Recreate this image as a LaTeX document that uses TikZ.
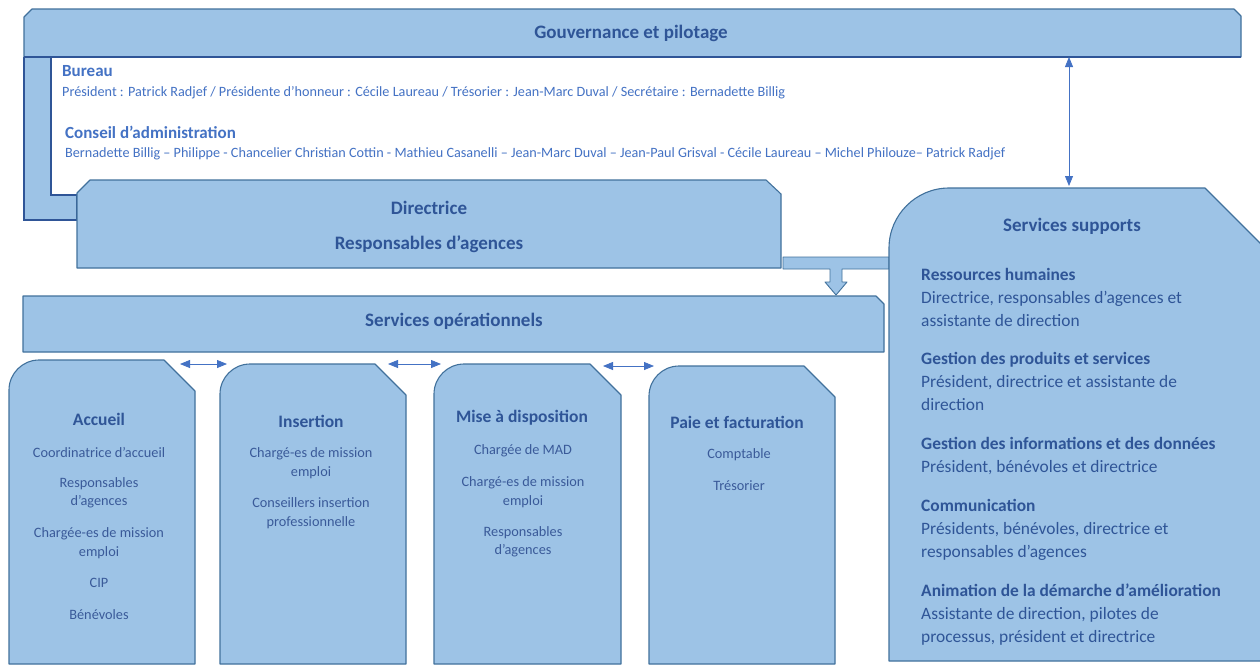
\documentclass[tikz,border=0pt]{standalone}
\usepackage{fontspec}
\setmainfont{Carlito}
\usetikzlibrary{arrows.meta}
\definecolor{boxfill}{HTML}{9DC3E6}
\definecolor{boxline}{HTML}{41719C}
\definecolor{bracketline}{HTML}{2F5597}
\definecolor{titletxt}{HTML}{2F5597}
\definecolor{bodytxt}{HTML}{3A5A99}
\definecolor{bureautxt}{HTML}{4472C4}
\definecolor{arrowcol}{HTML}{4472C4}
\tikzstyle{panel} = [fill=boxfill, draw=boxline, line width=1.1pt, line join=round]
\tikzstyle{ttl} = [font=\fontsize{19}{22}\selectfont\bfseries, text=titletxt, inner sep=0pt]
\tikzstyle{cardttl} = [font=\fontsize{17.5}{20}\selectfont\bfseries, text=titletxt, inner sep=0pt]
\tikzstyle{item} = [font=\fontsize{14.3}{18.5}\selectfont, text=bodytxt, align=center, inner sep=0pt]
\tikzstyle{bureauhead} = [anchor=west, font=\fontsize{17}{19}\selectfont\bfseries, text=bureautxt, inner sep=0pt]
\tikzstyle{bureaubody} = [anchor=west, font=\fontsize{14.2}{16}\selectfont, text=bureautxt, inner sep=0pt]
\tikzstyle{supp} = [anchor=north west, font=\fontsize{17.4}{23}\selectfont, text=titletxt, align=left, inner sep=0pt]
\tikzstyle{twoway} = [{Triangle[length=10pt,width=8pt]}-{Triangle[length=10pt,width=8pt]}, color=arrowcol, line width=0.8pt]

\begin{document}
\begin{tikzpicture}[x=1pt, y=-1pt]
		% un point = un pixel de l'image, axe y vers le bas
		\useasboundingbox (0,0) rectangle (1260,665);
		\clip (0,0) rectangle (1260,665);
		\fill[white] (0,0) rectangle (1260,665);
		
		% ---- 1. Gouvernance et pilotage ----
		% équerre de gauche
		\draw[fill=boxfill, draw=bracketline, line width=1.6pt]
		(24,57) -- (24,220) -- (77,220) -- (77,195) -- (51,195) -- (51,57);
		% bandeau du haut
		\draw[panel] (24,57) -- (24,17) -- (32,9) -- (1234,9) -- (1241,16) -- (1241,57) -- cycle;
		\draw[bracketline, line width=1.6pt] (24,57) -- (1241,57);
		\node[ttl] (gouv) at (631,33.5) {Gouvernance et pilotage};
		
		% bureau et conseil
		\node[bureauhead] (bureau) at (62,71) {Bureau};
		\node[bureaubody] (bureauTxt) at (62,92.5) {Président : Patrick Radjef / Présidente d’honneur : Cécile Laureau / Trésorier : Jean-Marc Duval / Secrétaire : Bernadette Billig};
		\node[bureauhead] (ca) at (65,132) {Conseil d’administration};
		\node[bureaubody] (caTxt) at (65,153.5) {Bernadette Billig – Philippe - Chancelier Christian Cottin - Mathieu Casanelli – Jean-Marc Duval – Jean-Paul Grisval - Cécile Laureau – Michel Philouze– Patrick Radjef};
		
		% ---- 2. Directrice ----
		\draw[panel] (77,268) -- (77,193) -- (90,180) -- (766,180) -- (781,194) -- (781,268) -- cycle;
		\node[ttl] (dir) at (429,207.5) {Directrice};
		\node[ttl] (resp) at (429,244.5) {Responsables d’agences};
		
		% flèche en T vers les services opérationnels
		\draw[panel, line width=0.9pt] (783,257) -- (889,257) -- (889,269) -- (842,269) -- (842,282) -- (847,282)
		-- (836,295) -- (825,282) -- (830,282) -- (830,269) -- (783,269) -- cycle;
		
		% ---- 3. Services opérationnels ----
		\draw[panel] (23,352) -- (23,296) -- (876,296) -- (884,304) -- (884,352) -- cycle;
		\node[ttl] (servop) at (454,321.5) {Services opérationnels};
		
		% cartes : gauche / droite / haut
		\foreach \l/\r/\t in {9/195/360, 220/406/364, 434/621/364, 649/835/366}
		\draw[panel] (\l,664) -- ({\l},{\t+30}) .. controls ({\l},{\t+13.5}) and ({\l+13.5},{\t}) .. ({\l+30},{\t})
		-- ({\r-31},{\t}) -- ({\r},{\t+31}) -- (\r,664) -- cycle;
		
		% Accueil
		\node[cardttl] (accueil) at (99,419) {Accueil};
		\node[item] (coord) at (99,452) {Coordinatrice d’accueil};
		\node[item] (respA) at (99,493) {Responsables\\d’agences};
		\node[item] (chargA) at (99,543) {Chargée-es de mission\\emploi};
		\node[item] (cip) at (99,583) {CIP};
		\node[item] (benev) at (99,615) {Bénévoles};
		
		% Insertion
		\node[cardttl] (insertion) at (311,421) {Insertion};
		\node[item] (chargI) at (311,463) {Chargé-es de mission\\emploi};
		\node[item] (conseil) at (311,513) {Conseillers insertion\\professionnelle};
		
		% Mise à disposition
		\node[cardttl] (mad) at (522,418) {Mise à disposition};
		\node[item] (chargMAD) at (523,451) {Chargée de MAD};
		\node[item] (chargM) at (523,492) {Chargé-es de mission\\emploi};
		\node[item] (respM) at (523,542) {Responsables\\d’agences};
		
		% Paie et facturation
		\node[cardttl] (paie) at (737,422) {Paie et facturation};
		\node[item] (compta) at (739,455) {Comptable};
		\node[item] (tresor) at (739,486) {Trésorier};
		
		% liens entre cartes
		\coordinate (acc-e) at (180,364);
		\coordinate (ins-w) at (227,364);
		\coordinate (ins-e) at (388,364);
		\coordinate (mad-w) at (441,364);
		\coordinate (mad-e) at (603,366);
		\coordinate (paie-w) at (654,366);
		\draw[twoway] (acc-e) -- (ins-w);
		\draw[twoway] (ins-e) -- (mad-w);
		\draw[twoway] (mad-e) -- (paie-w);
		
		% ---- 4. Services supports ----
		\draw[panel] (889,661) -- (889,248) .. controls (889,215) and (916,188) .. (949,188) -- (1205,188)
		-- (1278,261) -- (1278,661) -- cycle;
		\node[ttl] (supports) at (1072,226.5) {Services supports};
		\node[supp] (rh) at (921,268) {{\bfseries Ressources humaines}\\Directrice, responsables d’agences et\\assistante de direction};
		\node[supp] (prod) at (921,352) {{\bfseries Gestion des produits et services}\\Président, directrice et assistante de\\direction};
		\node[supp] (infos) at (921,437) {{\bfseries Gestion des informations et des données}\\Président, bénévoles et directrice};
		\node[supp] (comm) at (921,499) {{\bfseries Communication}\\Présidents, bénévoles, directrice et\\responsables d’agences};
		\node[supp] (amelio) at (921,584) {{\bfseries Animation de la démarche d’amélioration}\\Assistante de direction, pilotes de\\processus, président et directrice};
		
		% lien gouvernance -- services supports
		\coordinate (gouv-s) at (1069,57);
		\coordinate (supports-n) at (1069,186);
		\draw[twoway] (gouv-s) -- (supports-n);
		
	\end{tikzpicture}
\end{document}
